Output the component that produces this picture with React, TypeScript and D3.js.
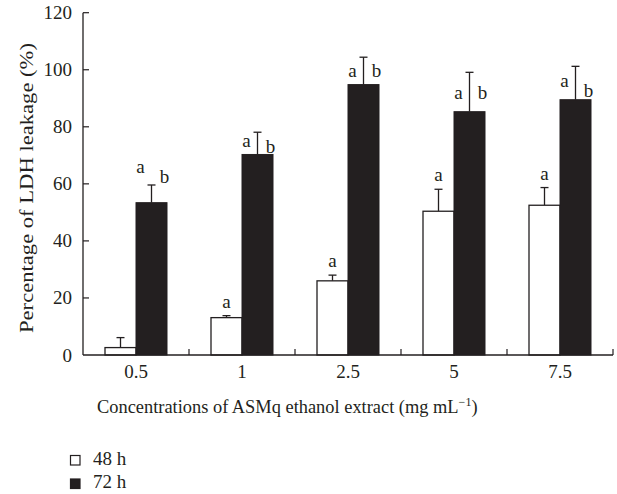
import React from "react";
import * as d3 from "d3";

const categories = ["0.5", "1", "2.5", "5", "7.5"];
const seriesNames = ["48 h", "72 h"];
const values48 = [2.6, 13.1, 26.0, 50.4, 52.5];
const errors48 = [3.5, 0.7, 2.0, 7.7, 6.2];
const values72 = [53.4, 70.3, 94.8, 85.3, 89.5];
const errors72 = [6.2, 7.8, 9.6, 13.8, 11.7];
const yTicks = [0, 20, 40, 60, 80, 100, 120];
const labels48 = ["", "a", "a", "a", "a"];
const labelsA72 = ["a", "a", "a", "a", "a"];
const labelsB72 = ["b", "b", "b", "b", "b"];
const labelA72Level = [63.9, 73.0, 97.5, 89.8, 94.0];
const labelB72Level = [60.4, 70.9, 97.5, 89.8, 90.5];

const FONT = "'Liberation Serif', 'Times New Roman', serif";
const BLACK = "#231f20";

export default function App() {
  const W = 617, H = 494;
  const x0 = d3.scaleBand().domain(categories).range([83, 613]).paddingInner(0).paddingOuter(0);
  const bw = x0.bandwidth();
  const x1 = d3.scaleBand().domain(seriesNames).range([bw / 2 - 31, bw / 2 + 31]).padding(0);
  const y = d3.scaleLinear().domain([0, 120]).range([355, 12.7]);
  const sub = x1.bandwidth();
  const capW = 8;
  const fs = 19;

  return (
    <svg width={W} height={H} style={{ position: "absolute", left: 0, top: 0, background: "#fff" }}>
      <rect x={0} y={0} width={W} height={H} fill="#fff" />
      {categories.map((c, i) => {
        const bx48 = (x0(c) as number) + (x1("48 h") as number);
        const bx72 = (x0(c) as number) + (x1("72 h") as number);
        const cx48 = bx48 + sub / 2;
        const cx72 = bx72 + sub / 2;
        const e48 = y(values48[i] + errors48[i]);
        const e72 = y(values72[i] + errors72[i]);
        return (
          <g key={c}>
            <line x1={cx48} x2={cx48} y1={y(values48[i])} y2={e48} stroke={BLACK} strokeWidth={1.3} />
            <line x1={cx48 - capW / 2} x2={cx48 + capW / 2} y1={e48} y2={e48} stroke={BLACK} strokeWidth={1.3} />
            <line x1={cx72} x2={cx72} y1={y(values72[i])} y2={e72} stroke={BLACK} strokeWidth={1.3} />
            <line x1={cx72 - capW / 2} x2={cx72 + capW / 2} y1={e72} y2={e72} stroke={BLACK} strokeWidth={1.3} />
            <rect x={bx48} y={y(values48[i])} width={sub} height={y(0) - y(values48[i])} fill="#fff" stroke={BLACK} strokeWidth={1.3} />
            <rect x={bx72} y={y(values72[i])} width={sub} height={y(0) - y(values72[i])} fill={BLACK} stroke={BLACK} strokeWidth={1} />
            {labels48[i] && (
              <text x={cx48} y={e48 - 8} textAnchor="middle" fontFamily={FONT} fontSize={fs} fill={BLACK}>{labels48[i]}</text>
            )}
            <text x={cx72 - 11} y={y(labelA72Level[i])} textAnchor="middle" fontFamily={FONT} fontSize={fs} fill={BLACK}>{labelsA72[i]}</text>
            <text x={cx72 + 13} y={y(labelB72Level[i])} textAnchor="middle" fontFamily={FONT} fontSize={fs} fill={BLACK}>{labelsB72[i]}</text>
          </g>
        );
      })}
      <line x1={83} x2={83} y1={y(120)} y2={y(0)} stroke={BLACK} strokeWidth={1.3} />
      <line x1={83} x2={613} y1={y(0)} y2={y(0)} stroke={BLACK} strokeWidth={1.3} />
      {yTicks.map((t) => (
        <g key={t}>
          {t > 0 && <line x1={83} x2={89} y1={y(t)} y2={y(t)} stroke={BLACK} strokeWidth={1.2} />}
          <text x={72} y={y(t) + 6.5} textAnchor="end" fontFamily={FONT} fontSize={fs} fill={BLACK}>{t}</text>
        </g>
      ))}
      {categories.map((c) => {
        const xe = (x0(c) as number) + bw;
        return <line key={"t" + c} x1={xe} x2={xe} y1={y(0)} y2={y(0) - 6} stroke={BLACK} strokeWidth={1.2} />;
      })}
      {categories.map((c) => (
        <text key={"l" + c} x={(x0(c) as number) + bw / 2} y={378} textAnchor="middle" fontFamily={FONT} fontSize={fs} fill={BLACK}>{c}</text>
      ))}
      <text transform={`translate(33,188) rotate(-90)`} textAnchor="middle" fontFamily={FONT} fontSize={fs} fill={BLACK}
        textLength={290} lengthAdjust="spacingAndGlyphs">Percentage of LDH leakage (%)</text>
      <text x={97} y={413} fontFamily={FONT} fontSize={18.4} fill={BLACK}>
        <tspan>Concentrations of ASMq ethanol extract (mg mL</tspan>
        <tspan dy={-7} fontSize={12}>−1</tspan>
        <tspan dy={7}>)</tspan>
      </text>
      {seriesNames.map((s, i) => (
        <g key={s}>
          <rect x={70.5} y={455.5 + i * 23.5} width={9.5} height={9.5} fill={i === 0 ? "#fff" : BLACK} stroke={BLACK} strokeWidth={1.2} />
          <text x={93} y={464.5 + i * 23.5} fontFamily={FONT} fontSize={fs} fill={BLACK}>{s}</text>
        </g>
      ))}
    </svg>
  );
}
